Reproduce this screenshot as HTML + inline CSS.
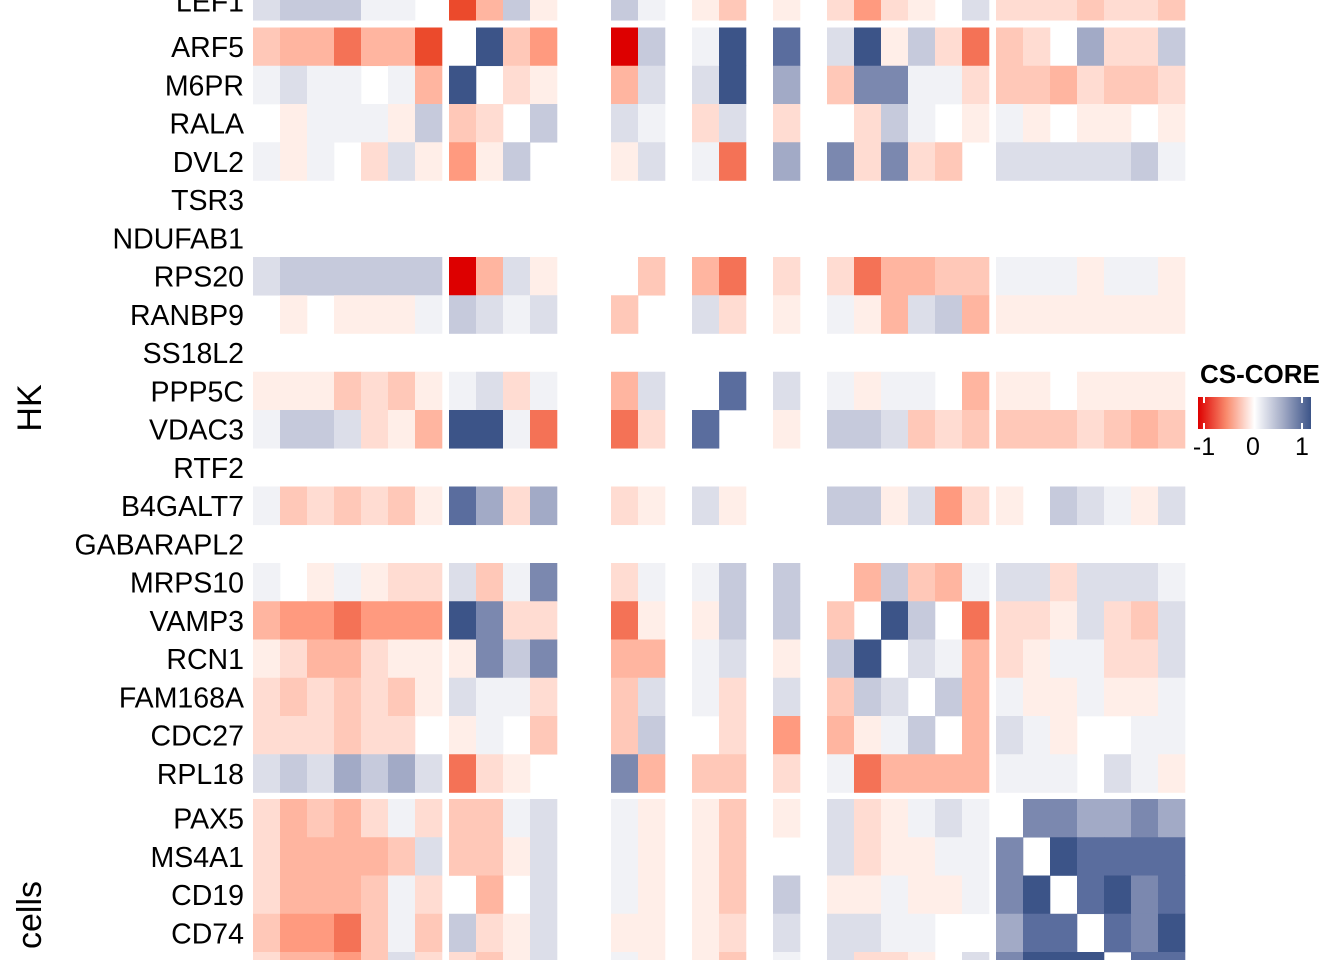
<!DOCTYPE html>
<html><head><meta charset="utf-8"><style>
html,body{margin:0;padding:0;background:#fff;}
svg{display:block;}
text{font-family:"Liberation Sans",sans-serif;fill:#000;}
</style></head><body>
<svg id="s" width="1344" height="960" viewBox="0 0 1344 960" xmlns="http://www.w3.org/2000/svg">
<defs>
<linearGradient id="lg" x1="0" x2="1" y1="0" y2="0">
<stop offset="0" stop-color="#DD0000"/>
<stop offset="0.25" stop-color="#F98A6C"/>
<stop offset="0.5" stop-color="#FFFFFF"/>
<stop offset="0.75" stop-color="#A3ABC6"/>
<stop offset="1" stop-color="#3C5488"/>
</linearGradient>
</defs>
<g id="cells"></g>
<g id="labels"></g>
<text x="0" y="0" font-size="34" transform="translate(41,408) rotate(-90)" text-anchor="middle">HK</text>
<text x="0" y="0" font-size="34" transform="translate(41,915) rotate(-90)" text-anchor="middle">cells</text>
<text x="1200" y="383" font-size="26" font-weight="bold">CS-CORE</text>
<rect x="1198" y="397" width="113" height="32" fill="url(#lg)"/>
<line x1="1204" x2="1204" y1="397" y2="403" stroke="#fff" stroke-width="2"/>
<line x1="1204" x2="1204" y1="423" y2="429" stroke="#fff" stroke-width="2"/>
<line x1="1302" x2="1302" y1="397" y2="403" stroke="#fff" stroke-width="2"/>
<line x1="1302" x2="1302" y1="423" y2="429" stroke="#fff" stroke-width="2"/>
<text x="1204" y="455" font-size="25" text-anchor="middle">-1</text>
<text x="1253" y="455" font-size="25" text-anchor="middle">0</text>
<text x="1302" y="455" font-size="25" text-anchor="middle">1</text>
</svg>
<script>
var C={R:"#DD0000",r:"#EB4A2C",o:"#F47256",p:"#FF9A7F",s:"#FFB5A0",t:"#FFC8B8",u:"#FFDCD2",v:"#FFEEE8",w:"#FFFFFF",_:"#FFFFFF",
a:"#F1F2F6",b:"#DCDEE9",c:"#C6CADC",d:"#A2AAC6",e:"#7B88AF",f:"#5A6D9E",g:"#3C5488"};
var xs=[];for(var i=0;i<7;i++)xs.push(253+27*i);
[449,476,503,530,611,638,692,719,773,827,854,881,908,935,962].forEach(function(x){xs.push(x)});
for(var i=0;i<7;i++)xs.push(996+27*i);
var rows=[
["LEF1","bcccaaw","rscv","ca","vt","v","upuvwb","uuutuut",-18],
["ARF5","tssossr","wgtp","Rc","ag","f","bgvcuo","tuwduuc"],
["M6PR","abaawas","gwuv","sb","bg","d","teeaau","ttsuttu"],
["RALA","wvaaavc","tuwc","ba","ub","u","wucawv","avwvvwv"],
["DVL2","avawubv","pvc_","vb","ao","d","eueutw","bbbbbca"],
["TSR3"],["NDUFAB1"],
["RPS20","bcccccc","Rsbv","_t","so","u","uosstte","aaavaav"],
["RANBP9","wvwvvva","cbab","t_","bu","v","avsbcs","vvvvvvv"],
["SS18L2"],
["PPP5C","vvvtutv","abua","sb","_f","b","avaaws","vvwvvvv"],
["VDAC3","accbuvs","ggao","ou","f_","v","ccbtut","tttutst"],
["RTF2"],
["B4GALT7","atututvv".slice(0,7),"fdud","uv","bv","_","ccvbpu","vwcbavb"],
["GABARAPL2"],
["MRPS10","awvavuu","btae","ua","ac","c","_sctsa","bbubbba"],
["VAMP3","sppoppp","geuu","ov","vc","c","twgcwo","uuvbutb"],
["RCN1","vussuvv","vece","ss","ab","v","cgwbas","uvaauub"],
["FAM168A","utututv","baau","tb","au","b","tcbwcs","avvavva"],
["CDC27","uuutuuw","vawt","tc","wu","p","svacws","bavwwaa"],
["RPL18","bcbdcdb","ouvw","es","tt","u","aossssw","aaawbav"],
["PAX5","ustsuau","ttab","av","vt","v","buvaba","weeddex".replace("x","d"),799],
["MS4A1","usssstbu".slice(0,7),"ttvb","av","vt","w","buvvaa","ewgffff"],
["CD19","usssstau".replace("st","t").slice(0,7),"wswb","av","vt","c","vvavva","egwfgef"],
["CD74","tppotat","cuvb","vv","vu","b","bbaaww","dffwfeg"],
["","usspgbu".replace("g","t").slice(0,6)+"u","utvb","av","vt","a","buuvwb","egggwff",952]
];
var cg=document.getElementById("cells"),lg=document.getElementById("labels"),ns="http://www.w3.org/2000/svg";
var y=-18,h=38.25;
rows.forEach(function(r,k){
  if(r.length>8)y=r[8];else if(k>0)y=y;
  var s=(r.length>1)?(r[1]+r[2]+r[3]+r[4]+r[5]+r[6].slice(0,6)+r[7]):"";
  for(var i=0;i<s.length&&i<29;i++){
    var col=C[s[i]]||"#fff";if(col=="#FFFFFF")continue;
    var e=document.createElementNS(ns,"rect");
    e.setAttribute("x",xs[i]);e.setAttribute("y",y);e.setAttribute("width",27.3);e.setAttribute("height",h+0.3);
    e.setAttribute("fill",col);cg.appendChild(e);
  }
  if(r[0]){var t=document.createElementNS(ns,"text");t.setAttribute("x",244);t.setAttribute("y",y+h/2+10.5);
  t.setAttribute("font-size","28.5");t.setAttribute("text-anchor","end");t.textContent=r[0];lg.appendChild(t);}
  y+=h;
  if(k==0)y=27.5;
});
</script>
</body></html>
